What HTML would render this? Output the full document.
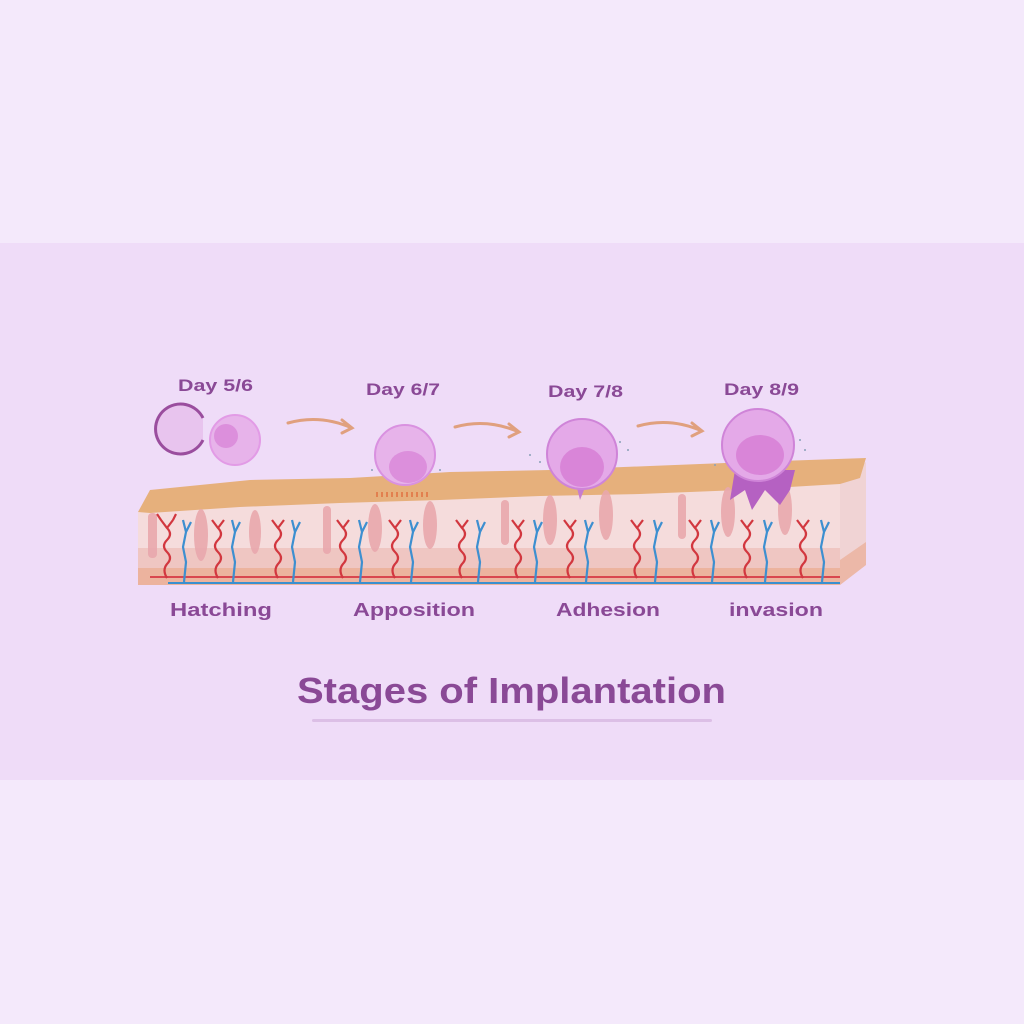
<!DOCTYPE html>
<html><head><meta charset="utf-8"><style>
html,body{margin:0;padding:0;background:#f4e9fb;}
svg{display:block}
text{font-family:"Liberation Sans",sans-serif;font-weight:bold;fill:#8a4996}
</style></head><body>
<svg width="1024" height="1024" viewBox="0 0 1024 1024" xmlns="http://www.w3.org/2000/svg">
<rect width="1024" height="1024" fill="#f4e9fb"/>
<rect y="243" width="1024" height="537" fill="#efdcf8"/>
<!-- tissue slab -->
<polygon points="840,480 866,462 866,565 840,585" fill="#f0d3d4"/>
<polygon points="840,560 866,542 866,565 840,585" fill="#ecb8a8"/>
<polygon points="138,512 840,478 840,585 138,585" fill="#f5dcdc"/>
<polygon points="138,548 840,548 840,585 138,585" fill="#efc6c2"/>
<polygon points="138,568 840,568 840,585 138,585" fill="#ecb39e"/>
<line x1="150" y1="577" x2="840" y2="577" stroke="#d9474f" stroke-width="2"/>
<line x1="168" y1="583" x2="840" y2="583" stroke="#3a8fcf" stroke-width="2"/>
<!-- top endometrium layer -->
<path d="M138,512 L150,490 L250,480 L350,478 L450,472 L550,470 L650,466 L750,462 L866,458 L860,478 L840,484 L740,490 L640,494 L540,496 L440,500 L340,503 L240,507 L150,513 Z" fill="#e6b07c"/>
<!-- glands -->
<g fill="#e9a8ad" opacity="0.9">
<rect x="148" y="513" width="9" height="45" rx="4"/>
<ellipse cx="201" cy="535" rx="7" ry="26"/>
<ellipse cx="255" cy="532" rx="6" ry="22"/>
<rect x="323" y="506" width="8" height="48" rx="4"/>
<ellipse cx="375" cy="528" rx="7" ry="24"/>
<ellipse cx="430" cy="525" rx="7" ry="24"/>
<rect x="501" y="500" width="8" height="45" rx="4"/>
<ellipse cx="550" cy="520" rx="7" ry="25"/>
<ellipse cx="606" cy="515" rx="7" ry="25"/>
<rect x="678" y="494" width="8" height="45" rx="4"/>
<ellipse cx="728" cy="512" rx="7" ry="25"/>
<ellipse cx="785" cy="510" rx="7" ry="25"/>
</g>
<!-- vessels -->
<g fill="none" stroke-width="2.2">
<g stroke="#d2373f">
<path d="M167,578 q-5,-8 0,-14 q6,-6 0,-12 q-6,-6 0,-12 q6,-6 0,-12 l-6,-8 M167,528 l6,-8 M161,520 l-4,-6 M173,520 l3,-6"/>
<path d="M218,578 q-5,-8 0,-14 q6,-6 0,-12 q-6,-6 0,-12 q6,-6 0,-12 l-6,-8 M218,528 l6,-8"/>
<path d="M278,578 q-5,-8 0,-14 q6,-6 0,-12 q-6,-6 0,-12 q6,-6 0,-12 l-6,-8 M278,528 l6,-8"/>
<path d="M343,578 q-5,-8 0,-14 q6,-6 0,-12 q-6,-6 0,-12 q6,-6 0,-12 l-6,-8 M343,528 l6,-8"/>
<path d="M395,578 q-5,-8 0,-14 q6,-6 0,-12 q-6,-6 0,-12 q6,-6 0,-12 l-6,-8 M395,528 l6,-8"/>
<path d="M462,578 q-5,-8 0,-14 q6,-6 0,-12 q-6,-6 0,-12 q6,-6 0,-12 l-6,-8 M462,528 l6,-8"/>
<path d="M518,578 q-5,-8 0,-14 q6,-6 0,-12 q-6,-6 0,-12 q6,-6 0,-12 l-6,-8 M518,528 l6,-8"/>
<path d="M570,578 q-5,-8 0,-14 q6,-6 0,-12 q-6,-6 0,-12 q6,-6 0,-12 l-6,-8 M570,528 l6,-8"/>
<path d="M637,578 q-5,-8 0,-14 q6,-6 0,-12 q-6,-6 0,-12 q6,-6 0,-12 l-6,-8 M637,528 l6,-8"/>
<path d="M695,578 q-5,-8 0,-14 q6,-6 0,-12 q-6,-6 0,-12 q6,-6 0,-12 l-6,-8 M695,528 l6,-8"/>
<path d="M747,578 q-5,-8 0,-14 q6,-6 0,-12 q-6,-6 0,-12 q6,-6 0,-12 l-6,-8 M747,528 l6,-8"/>
<path d="M803,578 q-5,-8 0,-14 q6,-6 0,-12 q-6,-6 0,-12 q6,-6 0,-12 l-6,-8 M803,528 l6,-8"/>
</g>
<g stroke="#3d8fd0">
<path d="M184,582 l2,-20 l-3,-15 l3,-15 l-3,-12 m3,12 l5,-10"/>
<path d="M233,582 l2,-20 l-3,-15 l3,-15 l-3,-12 m3,12 l5,-10"/>
<path d="M293,582 l2,-20 l-3,-15 l3,-15 l-3,-12 m3,12 l5,-10"/>
<path d="M360,582 l2,-20 l-3,-15 l3,-15 l-3,-12 m3,12 l5,-10"/>
<path d="M411,582 l2,-20 l-3,-15 l3,-15 l-3,-12 m3,12 l5,-10"/>
<path d="M478,582 l2,-20 l-3,-15 l3,-15 l-3,-12 m3,12 l5,-10"/>
<path d="M535,582 l2,-20 l-3,-15 l3,-15 l-3,-12 m3,12 l5,-10"/>
<path d="M586,582 l2,-20 l-3,-15 l3,-15 l-3,-12 m3,12 l5,-10"/>
<path d="M655,582 l2,-20 l-3,-15 l3,-15 l-3,-12 m3,12 l5,-10"/>
<path d="M712,582 l2,-20 l-3,-15 l3,-15 l-3,-12 m3,12 l5,-10"/>
<path d="M765,582 l2,-20 l-3,-15 l3,-15 l-3,-12 m3,12 l5,-10"/>
<path d="M822,582 l2,-20 l-3,-15 l3,-15 l-3,-12 m3,12 l5,-10"/>
</g>
</g>
<!-- embryos -->
<path d="M203,418 A25,25 0 1 0 203,440" fill="#e8c4ee" stroke="#9a4d9e" stroke-width="3"/>
<circle cx="235" cy="440" r="25" fill="#e7b3ea" stroke="#e29be6" stroke-width="2"/>
<ellipse cx="226" cy="436" rx="12" ry="12" fill="#dc8fdc"/>
<circle cx="405" cy="455" r="30" fill="#e7b3ea" stroke="#d991e0" stroke-width="2"/>
<ellipse cx="408" cy="467" rx="19" ry="16" fill="#dc8fdc"/>
<g stroke="#e07040" stroke-width="1.5"><path d="M377,492 v5 M382,492 v5 M387,492 v5 M392,492 v5 M397,492 v5 M402,492 v5 M407,492 v5 M412,492 v5 M417,492 v5 M422,492 v5 M427,492 v5"/></g>
<path d="M575,480 l5,20 l8,-20 Z" fill="#c77dd0"/>
<circle cx="582" cy="454" r="35" fill="#e4a9e8" stroke="#cf84d8" stroke-width="2"/>
<ellipse cx="582" cy="467" rx="22" ry="20" fill="#d985d8"/>
<path d="M735,470 L730,500 L745,490 L752,510 L765,490 L780,505 L790,490 L795,470 Z" fill="#b561c2"/>
<circle cx="758" cy="445" r="36" fill="#e4a9e8" stroke="#cf84d8" stroke-width="2"/>
<ellipse cx="760" cy="455" rx="24" ry="20" fill="#d985d8"/>
<g fill="#8aa0b8"><circle cx="530" cy="455" r="1"/><circle cx="540" cy="462" r="1"/><circle cx="620" cy="442" r="1"/><circle cx="628" cy="450" r="1"/><circle cx="715" cy="465" r="1"/><circle cx="800" cy="440" r="1"/><circle cx="805" cy="450" r="1"/><circle cx="440" cy="470" r="1"/><circle cx="372" cy="470" r="1"/></g>
<!-- arrows -->
<g fill="none" stroke="#e0a07e" stroke-width="3" stroke-linecap="round">
<path d="M288,423 Q320,414 352,428 M342,420 L352,428 L342,433"/>
<path d="M455,427 Q487,418 519,432 M509,424 L519,432 L509,437"/>
<path d="M638,426 Q670,417 702,431 M692,423 L702,431 L692,436"/>
</g>
<!-- labels -->
<text x="178" y="391" font-size="17" textLength="75" lengthAdjust="spacingAndGlyphs">Day 5/6</text>
<text x="366" y="395" font-size="17" textLength="74" lengthAdjust="spacingAndGlyphs">Day 6/7</text>
<text x="548" y="397" font-size="17" textLength="75" lengthAdjust="spacingAndGlyphs">Day 7/8</text>
<text x="724" y="395" font-size="17" textLength="75" lengthAdjust="spacingAndGlyphs">Day 8/9</text>
<text x="170" y="616" font-size="18" textLength="102" lengthAdjust="spacingAndGlyphs">Hatching</text>
<text x="353" y="616" font-size="18" textLength="122" lengthAdjust="spacingAndGlyphs">Apposition</text>
<text x="556" y="616" font-size="18" textLength="104" lengthAdjust="spacingAndGlyphs">Adhesion</text>
<text x="729" y="616" font-size="18" textLength="94" lengthAdjust="spacingAndGlyphs">invasion</text>
<text x="297" y="703" font-size="36" textLength="429" lengthAdjust="spacingAndGlyphs">Stages of Implantation</text>
<rect x="312" y="719" width="400" height="3" rx="1.5" fill="#dcbfe6"/>
</svg>
</body></html>
